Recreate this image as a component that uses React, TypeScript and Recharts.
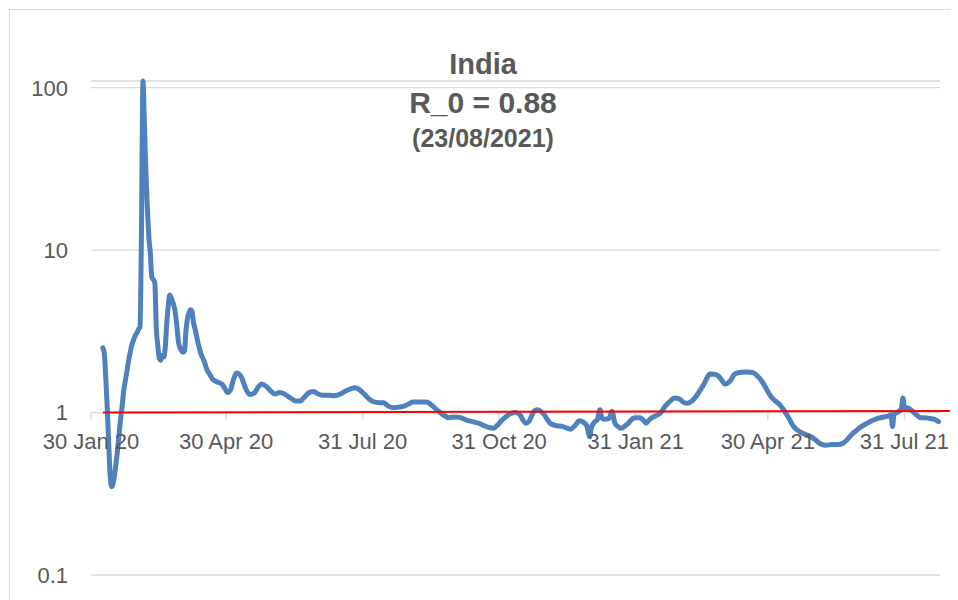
import React from "react";
import { LineChart, Line, XAxis, YAxis, CartesianGrid, ReferenceLine } from "recharts";

// Day index counted from 30 Jan 2020 (day 0)
const days: number[] = [
  8, 9, 10, 11, 12, 13, 14, 15, 16, 17, 18, 19, 20, 21, 22, 23, 24, 25, 26, 27, 28, 29, 30, 31, 32, 33,
  34, 35, 36, 37, 38, 39, 40, 41, 42, 43, 44, 45, 46, 47, 48, 49, 50, 51, 52, 53, 54, 55, 56, 57, 58, 59,
  60, 61, 62, 63, 64, 65, 66, 67, 68, 69, 70, 71, 72, 73, 74, 75, 76, 78, 80, 82, 84, 86, 88, 90, 92, 94,
  96, 98, 100, 102, 104, 107, 110, 113, 115, 118, 121, 124, 127, 129, 132, 135, 138, 141, 144, 147, 150,
  153, 156, 160, 164, 168, 171, 175, 178, 181, 184, 187, 190, 194, 197, 200, 204, 207, 210, 214, 217, 222,
  226, 229, 233, 237, 241, 245, 249, 253, 257, 261, 265, 268, 271, 274, 277, 280, 283, 286, 289, 291, 293,
  295, 297, 299, 301, 303, 305, 307, 310, 314, 318, 321, 323, 326, 329, 331, 334, 336, 337, 339, 341, 343,
  344, 346, 349, 351, 353, 355, 357, 360, 362, 365, 367, 370, 372, 374, 376, 378, 381, 384, 387, 390, 393,
  396, 399, 402, 405, 408, 411, 413, 415, 417, 420, 423, 425, 427, 429, 431, 433, 435, 438, 442, 446, 449,
  452, 455, 458, 461, 464, 467, 470, 473, 476, 479, 482, 485, 488, 491, 495, 499, 503, 507, 510, 513, 516,
  519, 522, 526, 530, 534, 537, 539, 540, 541, 543, 545, 546, 547, 548, 550, 553, 556, 559, 562, 565, 568,
  571,
];

const rValues: number[] = [
  2.5, 2.3, 1.6, 1.05, 0.62, 0.4, 0.35, 0.37, 0.42, 0.5, 0.6, 0.75, 0.93, 1.1, 1.35, 1.55, 1.75, 2.0, 2.25,
  2.5, 2.7, 2.85, 3.0, 3.1, 3.25, 3.35,
  13, 110, 60, 30, 18, 12, 9.5, 6.8, 6.6, 6.3, 3.3, 2.6, 2.15, 2.1, 2.25, 2.2, 2.5, 3.5, 4.5, 5.3, 5.1, 4.8,
  4.5, 4.0, 3.3, 2.7,
  2.5, 2.4, 2.35, 2.4, 3.2, 3.8, 4.1, 4.3, 4.2, 3.6, 3.3, 3.0, 2.7, 2.5, 2.3, 2.2, 2.1, 1.85, 1.72, 1.6,
  1.56, 1.53, 1.5, 1.42, 1.33, 1.38,
  1.6, 1.75, 1.72, 1.6, 1.42, 1.29, 1.32, 1.45, 1.5, 1.45, 1.36, 1.3, 1.33, 1.32, 1.27, 1.22, 1.18, 1.18,
  1.25, 1.33, 1.35,
  1.3, 1.28, 1.28, 1.27, 1.3, 1.35, 1.4, 1.42, 1.38, 1.3, 1.22, 1.17, 1.15, 1.15, 1.1, 1.07, 1.08, 1.09,
  1.13, 1.16, 1.16,
  1.16, 1.12, 1.04, 0.97, 0.93, 0.94, 0.93, 0.9, 0.88, 0.86, 0.83, 0.81, 0.8, 0.84, 0.9, 0.95, 0.99, 1.0,
  0.97, 0.9, 0.86,
  0.88, 0.96, 1.03, 1.04, 1.02, 0.98, 0.92, 0.85, 0.83, 0.82, 0.8, 0.79, 0.83, 0.89, 0.88, 0.83, 0.71, 0.8,
  0.87, 0.9, 1.04,
  0.93, 0.91, 0.92, 1.02, 0.86, 0.82, 0.8, 0.83, 0.86, 0.92, 0.93, 0.93, 0.9, 0.86, 0.9, 0.93, 0.96, 1.0,
  1.1, 1.17, 1.23,
  1.22, 1.16, 1.14, 1.18, 1.27, 1.4, 1.5, 1.63, 1.73, 1.72, 1.67, 1.58, 1.5, 1.52, 1.58, 1.7, 1.75, 1.77,
  1.78, 1.76, 1.68,
  1.56, 1.4, 1.26, 1.18, 1.12, 1.03, 0.93, 0.83, 0.78, 0.75, 0.73, 0.71, 0.68, 0.645, 0.63, 0.635, 0.635,
  0.65, 0.69, 0.74, 0.78,
  0.82, 0.85, 0.89, 0.92, 0.94, 0.95, 0.97, 0.82, 0.97, 1.0, 1.03, 1.06, 1.23, 1.07, 1.07, 1.03, 0.97, 0.93,
  0.93, 0.92, 0.91,
  0.88,
];

const xTickDays: number[] = [0, 91, 183, 275, 367, 456, 548];
const xTickLabels: string[] = ["30 Jan 20", "30 Apr 20", "31 Jul 20", "31 Oct 20", "31 Jan 21", "30 Apr 21", "31 Jul 21"];
const yTicks: number[] = [0.1, 1, 10, 100];
const xDomain: number[] = [0, 572];
const yDomain: number[] = [0.1, 110];
const thresholdStart = { day: 8, value: 1 };
const thresholdEnd = { day: 584, value: 1.024 };
const tickBottomValue = 0.905;

const titleLines: string[] = ["India", "R_0 = 0.88", "(23/08/2021)"];

const data = days.map((d, i) => ({ day: d, r: rValues[i] }));

const FONT = "'Liberation Sans', Arial, sans-serif";
const TEXT = "#595959";
const GRID = "#d9d9d9";

export default function App() {
  return (
    <div style={{ position: "relative", width: 950, height: 592, overflow: "hidden", fontFamily: FONT }}>
      <div
        style={{
          position: "absolute",
          left: 1,
          top: 1,
          width: 2000,
          height: 2000,
          borderLeft: `1px solid ${GRID}`,
          borderTop: `1px solid ${GRID}`,
        }}
      />
      <div style={{ position: "absolute", left: 0, top: 0 }}>
        <LineChart width={950} height={592} data={data} margin={{ top: 73, right: 18, bottom: 25, left: 23 }}>
          <CartesianGrid vertical={false} stroke={GRID} strokeWidth={1.3} />
          <XAxis type="number" dataKey="day" domain={xDomain} hide />
          <YAxis
            type="number"
            scale="log"
            domain={yDomain}
            ticks={yTicks}
            allowDataOverflow={false}
            width={60}
            axisLine={false}
            tickLine={false}
            tickSize={0}
            tickMargin={23}
            tickFormatter={(v: number) => String(v)}
            tick={{ fill: TEXT, fontSize: 22, fontFamily: FONT }}
          />
          {xTickDays.map((d, i) => (
            <ReferenceLine
              key={`t${i}`}
              segment={[
                { x: d, y: 1 },
                { x: d, y: tickBottomValue },
              ]}
              stroke={GRID}
              strokeWidth={1.5}
              ifOverflow="visible"
              label={{
                value: xTickLabels[i],
                position: "bottom",
                offset: 14,
                fill: TEXT,
                fontSize: 22,
                fontFamily: FONT,
              }}
            />
          ))}
          <Line
            type="monotone"
            dataKey="r"
            stroke="#4f81bd"
            strokeWidth={5}
            dot={false}
            strokeLinejoin="round"
            strokeLinecap="round"
            isAnimationActive={false}
          />
          <ReferenceLine
            segment={[
              { x: thresholdStart.day, y: thresholdStart.value },
              { x: thresholdEnd.day, y: thresholdEnd.value },
            ]}
            stroke="#ff0000"
            strokeWidth={2}
            ifOverflow="visible"
          />
        </LineChart>
      </div>
      <div
        style={{
          position: "absolute",
          left: 275,
          width: 400,
          top: 37,
          textAlign: "center",
          color: TEXT,
          fontWeight: "bold",
          fontFamily: FONT,
        }}
      >
        <div style={{ fontSize: 29, lineHeight: "38px" }}>{titleLines[0]}</div>
        <div style={{ fontSize: 30, lineHeight: "40px" }}>{titleLines[1]}</div>
        <div style={{ fontSize: 25, lineHeight: "30px" }}>{titleLines[2]}</div>
      </div>
    </div>
  );
}
